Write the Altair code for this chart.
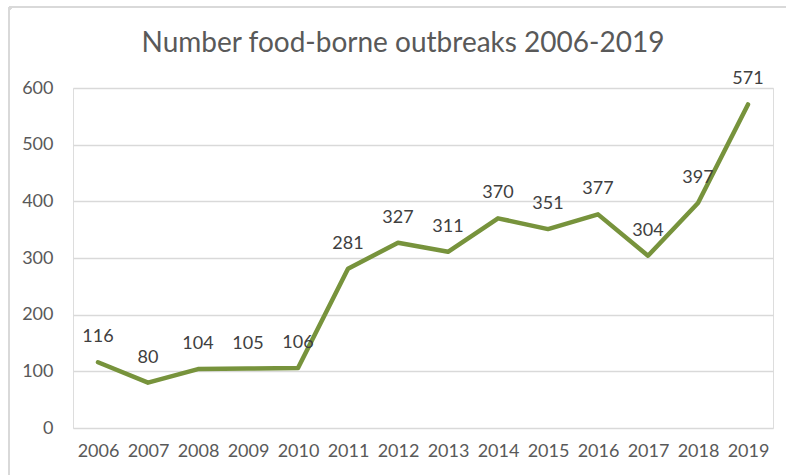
import altair as alt
import pandas as pd

years = ["2006", "2007", "2008", "2009", "2010", "2011", "2012", "2013",
         "2014", "2015", "2016", "2017", "2018", "2019"]
outbreaks = [116, 80, 104, 105, 106, 281, 327, 311, 370, 351, 377, 304, 397, 571]
title_text = ["Number food-borne outbreaks 2006-2019"]

df = pd.DataFrame({"year": years, "count": outbreaks})
tdf = pd.DataFrame({"t": title_text})

FONT = "Lato"

x = alt.X("year:N", sort=years, title=None,
          scale=alt.Scale(paddingInner=0, paddingOuter=0),
          axis=alt.Axis(labelAngle=0, ticks=False, domain=False, grid=False,
                        labelFont=FONT, labelFontSize=18, labelColor="#595959",
                        labelPadding=14))
y = alt.Y("count:Q", title=None,
          scale=alt.Scale(domain=[0, 600], nice=False),
          axis=alt.Axis(values=[0, 100, 200, 300, 400, 500, 600], ticks=False,
                        domain=False, grid=True, gridColor="#D9D9D9", gridWidth=1.3,
                        labelFont=FONT, labelFontSize=18, labelColor="#595959",
                        labelPadding=20))

base = alt.Chart(df)

line = base.mark_line(color="#77933C", strokeWidth=4.5, strokeCap="round",
                      strokeJoin="round").encode(x=x, y=y)

labels = base.mark_text(font=FONT, fontSize=18, color="#404040", dy=-25,
                        baseline="middle").encode(
    x=alt.X("year:N", sort=years), y=alt.Y("count:Q"), text="count:Q")

border = base.mark_rect(fill=None, stroke="#D9D9D9", strokeWidth=2,
                        cornerRadius=3, clip=False).encode(
    x=alt.value(-64), x2=alt.value(760), y=alt.value(-81), y2=alt.value(420))

title = alt.Chart(tdf).mark_text(font=FONT, fontSize=28, color="#595959",
                                 align="center", baseline="middle").encode(
    text="t:N", x=alt.value(330), y=alt.value(-44))

chart = alt.layer(border, line, labels, title).properties(
    width=700, height=340,
    padding={"left": 73, "top": 88, "right": 13, "bottom": 47},
    autosize=alt.AutoSizeParams(type="none"),
).configure_view(stroke=None).configure(background="white")

chart.save("out.html", embed_options={"renderer": "svg", "actions": False})
